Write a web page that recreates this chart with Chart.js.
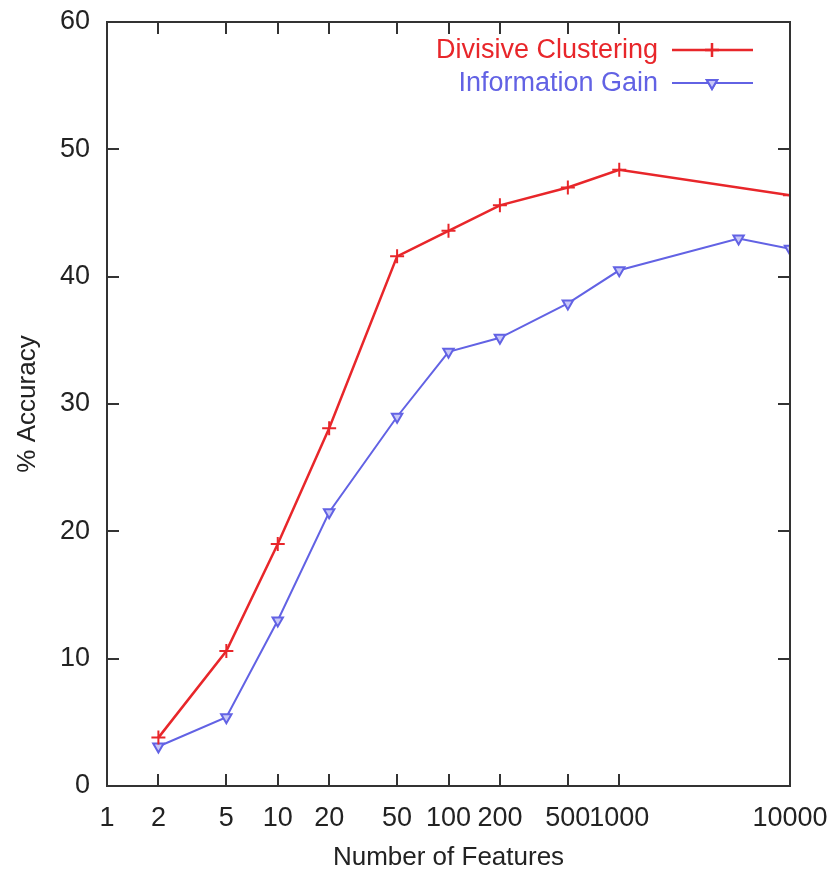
<!DOCTYPE html>
<html lang="en">
<head>
  <meta charset="UTF-8">
  <title>Accuracy vs Number of Features</title>
  <script src="https://cdn.jsdelivr.net/npm/chart.js"></script>
  <style>
    body {
      margin: 0;
      background: #fff;
    }
    .wrap {
      width: 833px;
      height: 879px;
    }
  </style>
</head>
<body>
  <div class="wrap"><canvas id="chart"></canvas></div>
  <script>
    const xTicks = [1, 2, 5, 10, 20, 50, 100, 200, 500, 1000, 10000];
    const divisiveX = [2, 5, 10, 20, 50, 100, 200, 500, 1000, 10000];
    const divisiveY = [3.8, 10.6, 19.0, 28.1, 41.6, 43.6, 45.6, 47.0, 48.4, 46.4];
    const infoGainX = [2, 5, 10, 20, 50, 100, 200, 500, 1000, 5000, 10000];
    const infoGainY = [3.1, 5.4, 13.0, 21.5, 29.0, 34.1, 35.2, 37.9, 40.5, 43.0, 42.2];

    const red = '#e8262a';
    const blue = '#6262e4';
    const font = "'Liberation Sans', Arial, sans-serif";

    function toPoints(xs, ys) {
      return xs.map((x, i) => ({ x: x, y: ys[i] }));
    }

    // gnuplot style ticks drawn inward, mirrored on top and right
    const innerTicks = {
      id: 'innerTicks',
      afterDraw(chart) {
        const { ctx, chartArea: a, scales } = chart;
        ctx.save();
        ctx.strokeStyle = '#333';
        ctx.lineWidth = 2;
        ctx.beginPath();
        xTicks.forEach(v => {
          const px = Math.round(scales.x.getPixelForValue(v));
          ctx.moveTo(px, a.bottom); ctx.lineTo(px, a.bottom - 12);
          ctx.moveTo(px, a.top); ctx.lineTo(px, a.top + 12);
        });
        scales.y.ticks.forEach(t => {
          const py = Math.round(scales.y.getPixelForValue(t.value));
          ctx.moveTo(a.left, py); ctx.lineTo(a.left + 12, py);
          ctx.moveTo(a.right, py); ctx.lineTo(a.right - 12, py);
        });
        ctx.stroke();
        ctx.strokeRect(a.left, a.top, a.right - a.left, a.bottom - a.top);
        ctx.restore();
      }
    };

    // legend like the original: text right-aligned, sample line to its right
    const keyLegend = {
      id: 'keyLegend',
      afterDraw(chart) {
        const { ctx } = chart;
        ctx.save();
        ctx.font = '27px ' + font;
        ctx.textAlign = 'right';
        ctx.textBaseline = 'middle';
        chart.data.datasets.forEach((ds, i) => {
          const y = 50 + i * 33;
          ctx.fillStyle = ds.borderColor;
          ctx.fillText(ds.label, 658, y + 1);
          ctx.strokeStyle = ds.borderColor;
          ctx.lineWidth = ds.borderWidth;
          ctx.beginPath();
          ctx.moveTo(672, y); ctx.lineTo(753, y);
          ctx.stroke();
          Chart.helpers.drawPoint(ctx, {
            pointStyle: ds.pointStyle,
            radius: ds.pointRadius,
            rotation: ds.pointRotation || 0,
            borderWidth: ds.pointBorderWidth
          }, 712, y);
          ctx.fillStyle = ds.pointBackgroundColor;
          ctx.strokeStyle = ds.borderColor;
          ctx.lineWidth = ds.pointBorderWidth;
          ctx.fill();
          ctx.stroke();
        });
        ctx.restore();
      }
    };

    new Chart(document.getElementById('chart'), {
      type: 'line',
      data: {
        datasets: [
          {
            label: 'Divisive Clustering',
            data: toPoints(divisiveX, divisiveY),
            borderColor: red,
            backgroundColor: red,
            pointBackgroundColor: red,
            borderWidth: 2.5,
            pointStyle: 'cross',
            pointRadius: 7,
            pointBorderWidth: 2,
            tension: 0
          },
          {
            label: 'Information Gain',
            data: toPoints(infoGainX, infoGainY),
            borderColor: blue,
            backgroundColor: '#c8c8f8',
            pointBackgroundColor: '#c8c8f8',
            borderWidth: 2,
            pointStyle: 'triangle',
            pointRotation: 180,
            pointRadius: 6,
            pointBorderWidth: 2,
            tension: 0
          }
        ]
      },
      options: {
        responsive: true,
        maintainAspectRatio: false,
        animation: false,
        layout: { padding: { top: 22, right: 43, left: 0, bottom: 0 } },
        plugins: {
          legend: { display: false },
          tooltip: { enabled: false }
        },
        scales: {
          x: {
            type: 'logarithmic',
            min: 1,
            max: 10000,
            afterBuildTicks(scale) {
              scale.ticks = xTicks.map(v => ({ value: v }));
            },
            afterFit(scale) {
              scale.height = 93;
              scale.paddingLeft = 0;
              scale.paddingRight = 0;
            },
            grid: { display: false, drawTicks: false },
            border: { display: false },
            ticks: {
              autoSkip: false,
              maxRotation: 0,
              padding: 16,
              color: '#222',
              font: { family: font, size: 27 },
              callback: v => String(v)
            },
            title: {
              display: true,
              text: 'Number of Features',
              color: '#222',
              font: { family: font, size: 26 },
              padding: { top: 0, bottom: 6 }
            }
          },
          y: {
            min: 0,
            max: 60,
            afterFit(scale) {
              scale.width = 107;
              scale.paddingTop = 0;
              scale.paddingBottom = 0;
            },
            grid: { display: false, drawTicks: false },
            border: { display: false },
            ticks: {
              stepSize: 10,
              padding: 17,
              color: '#222',
              font: { family: font, size: 27 }
            },
            title: {
              display: true,
              text: '% Accuracy',
              color: '#222',
              font: { family: font, size: 26 },
              padding: { top: 12, bottom: 0 }
            }
          }
        }
      },
      plugins: [innerTicks, keyLegend]
    });
  </script>
</body>
</html>
